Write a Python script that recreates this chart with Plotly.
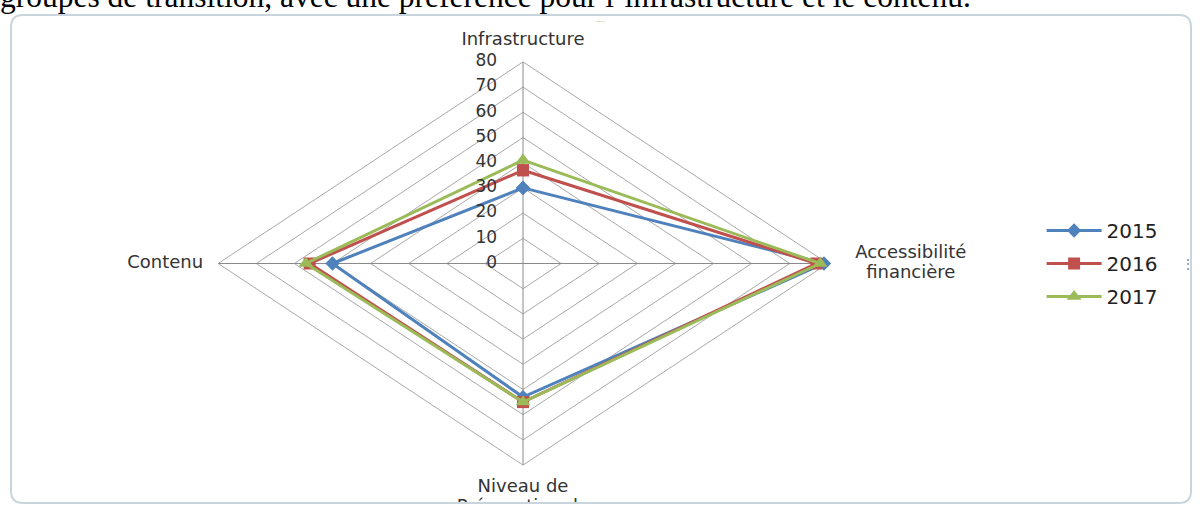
import plotly.graph_objects as go

# ---------------- data ----------------
categories = ["Infrastructure", "Accessibilité<br>financière", "Niveau de<br>Préparation du", "Contenu"]
years = ["2015", "2016", "2017"]
values_2015 = [30, 79, 53, 50]
values_2016 = [37, 77, 55, 56]
values_2017 = [41, 78, 55, 57]
tick_values = [0, 10, 20, 30, 40, 50, 60, 70, 80]
r_max = 80

# ---------------- styling ----------------
W, H = 1200, 512
CX, CY = 523, 263.5          # chart centre in pixels
SX, SY = 3.81, 2.52          # pixels per unit horizontally / vertically
colors = ["#4F81BD", "#C0504D", "#9BBB59"]
symbols = ["diamond", "square", "triangle-up"]
marker_sizes = [11, 12, 13]
series = [values_2015, values_2016, values_2017]
dirs = [(0, 1), (1, 0), (0, -1), (-1, 0)]   # up, right, down, left
label_font = "DejaVu Sans"
text_color = "#333333"
LINE_GAP = 20                # px between lines of a category label

fig = go.Figure()

# grid diamonds
for r in tick_values[1:]:
    xs = [r * d[0] for d in dirs] + [r * dirs[0][0]]
    ys = [r * d[1] for d in dirs] + [r * dirs[0][1]]
    fig.add_trace(go.Scatter(x=xs, y=ys, mode="lines", line=dict(color="#a9a9a9", width=1),
                             hoverinfo="skip", showlegend=False))
# spokes
for d in dirs:
    fig.add_trace(go.Scatter(x=[0, r_max * d[0]], y=[0, r_max * d[1]], mode="lines",
                             line=dict(color="#8a8a8a", width=1), hoverinfo="skip", showlegend=False))

# series
for name, vals, col, sym, ms in zip(years, series, colors, symbols, marker_sizes):
    xs = [v * d[0] for v, d in zip(vals, dirs)] + [vals[0] * dirs[0][0]]
    ys = [v * d[1] for v, d in zip(vals, dirs)] + [vals[0] * dirs[0][1]]
    fig.add_trace(go.Scatter(x=xs, y=ys, mode="lines+markers", name=name, legendgroup=name,
                             line=dict(color=col, width=3),
                             marker=dict(symbol=sym, size=ms, color=col),
                             cliponaxis=False))

# radial tick labels (along the top spoke)
fig.add_trace(go.Scatter(x=[-6.8] * len(tick_values), y=tick_values, mode="text",
                         text=[str(t) for t in tick_values], textposition="middle left",
                         textfont=dict(family=label_font, size=17, color=text_color),
                         hoverinfo="skip", showlegend=False))

# category labels: offset (px) of the first line's centre from the axis end
label_offsets = [(0, 21), (83, 10), (0, -22), (-53, 0)]
for cat, d, off in zip(categories, dirs, label_offsets):
    for i, line in enumerate(cat.split("<br>")):
        x = r_max * d[0] + off[0] / SX
        y = r_max * d[1] + (off[1] - i * LINE_GAP) / SY
        fig.add_trace(go.Scatter(x=[x], y=[y], mode="text", text=[line], textposition="middle center",
                                 textfont=dict(family=label_font, size=18, color=text_color),
                                 hoverinfo="skip", showlegend=False, cliponaxis=True))

x_range = [-CX / SX, (W - CX) / SX]
y_range = [-(H - CY) / SY, CY / SY]

def px_x(p):
    return p / W

def px_y(p):
    return 1 - p / H

# rounded frame
L, R, T, B, rad = 11, 1191, 15, 503, 12
path = (f"M{px_x(L + rad)},{px_y(T)} L{px_x(R - rad)},{px_y(T)} "
        f"Q{px_x(R)},{px_y(T)} {px_x(R)},{px_y(T + rad)} "
        f"L{px_x(R)},{px_y(B - rad)} Q{px_x(R)},{px_y(B)} {px_x(R - rad)},{px_y(B)} "
        f"L{px_x(L + rad)},{px_y(B)} Q{px_x(L)},{px_y(B)} {px_x(L)},{px_y(B - rad)} "
        f"L{px_x(L)},{px_y(T + rad)} Q{px_x(L)},{px_y(T)} {px_x(L + rad)},{px_y(T)} Z")

fig.update_layout(
    width=W, height=H,
    margin=dict(l=0, r=0, t=0, b=0),
    paper_bgcolor="white", plot_bgcolor="rgba(0,0,0,0)",
    xaxis=dict(range=x_range, visible=False, fixedrange=True),
    yaxis=dict(range=y_range, visible=False, fixedrange=True),
    shapes=[
        # page area below the chart frame (hides the cut-off part of the bottom label)
        dict(type="rect", xref="paper", yref="paper", x0=0, x1=1, y0=0, y1=px_y(B),
             fillcolor="white", line=dict(width=0), layer="above"),
        dict(type="path", xref="paper", yref="paper", path=path,
             line=dict(color="#c9d5dc", width=2), layer="above"),
    ],
    legend=dict(x=0.868, y=1 - 211 / H, xanchor="left", yanchor="top",
                font=dict(family=label_font, size=20, color="#222222"),
                tracegroupgap=4, itemwidth=55, bgcolor="rgba(0,0,0,0)"),
    annotations=[
        dict(text="groupes de transition, avec une préférence pour l’infrastructure et le contenu.",
             xref="paper", yref="paper", x=0, y=1, xanchor="left", yanchor="middle",
             xshift=-2, yshift=4, showarrow=False,
             font=dict(family="Liberation Serif", size=31.5, color="#000000")),
        dict(text="····", xref="paper", yref="paper", x=px_x(600), y=px_y(13),
             showarrow=False, font=dict(size=8, color="#999999")),
        dict(text="⋮", xref="paper", yref="paper", x=px_x(1197), y=px_y(263),
             showarrow=False, font=dict(size=14, color="#888888")),
    ],
)

fig.write_html("out.html")
